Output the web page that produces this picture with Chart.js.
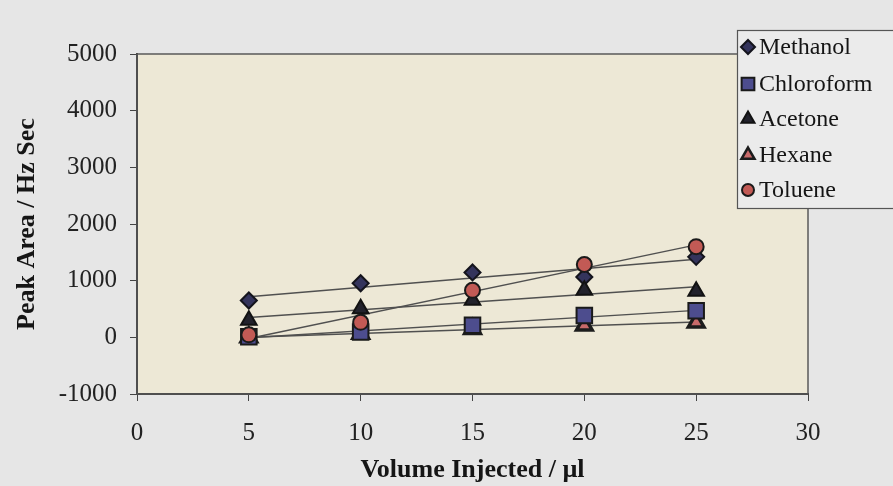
<!DOCTYPE html>
<html>
<head>
<meta charset="utf-8">
<script src="https://cdn.jsdelivr.net/npm/chart.js@4.4.1/dist/chart.umd.min.js"></script>
<style>
  html, body { margin: 0; padding: 0; background: #e6e6e6; }
  #wrap { width: 893px; height: 486px; }
</style>
</head>
<body>
<div id="wrap"><canvas id="peaks" width="893" height="486"></canvas></div>
<script>
// injected volumes (µl) and measured peak areas (Hz Sec)
const volumes = [5, 10, 15, 20, 25];
const methanol = [650, 955, 1145, 1065, 1420];
const chloroform = [10, 95, 212, 385, 470];
const acetone = [300, 505, 655, 830, 815];
const hexane = [0, 65, 145, 210, 262];
const toluene = [45, 265, 830, 1285, 1600];

const xTicks = [0, 5, 10, 15, 20, 25, 30];
const yTicks = [-1000, 0, 1000, 2000, 3000, 4000, 5000];

const serif = "'Liberation Serif', 'DejaVu Serif', serif";

const series = [
  { label: "Methanol", values: methanol, style: "rectRot", radius: 8, fill: "#34345c", edge: "#14141c", bw: 2, order: 5 },
  { label: "Chloroform", values: chloroform, style: "rect", radius: 11, fill: "#4d4d8e", edge: "#1a1a1a", bw: 2, order: 2 },
  { label: "Acetone", values: acetone, style: "triangle", radius: 9, fill: "#22222c", edge: "#121212", bw: 2, order: 3 },
  { label: "Hexane", values: hexane, style: "triangle", radius: 9, fill: "#c86a6a", edge: "#1c1c1c", bw: 3.5, order: 4 },
  { label: "Toluene", values: toluene, style: "circle", radius: 7.5, fill: "#c25a55", edge: "#1a1a1a", bw: 2, order: 1 },
];

// least squares line through each series, drawn between the first and last volume
const fitLine = (xs, ys) => {
  const n = xs.length;
  const mx = xs.reduce((a, b) => a + b, 0) / n;
  const my = ys.reduce((a, b) => a + b, 0) / n;
  let sxy = 0, sxx = 0;
  xs.forEach((x, i) => { sxy += (x - mx) * (ys[i] - my); sxx += (x - mx) * (x - mx); });
  const m = sxy / sxx;
  const x0 = xs[0], x1 = xs[n - 1];
  return [{ x: x0, y: my + m * (x0 - mx) }, { x: x1, y: my + m * (x1 - mx) }];
};

const datasets = [];
series.forEach(s => {
  datasets.push({
    type: "line",
    label: s.label + " trend",
    data: fitLine(volumes, s.values),
    borderColor: "#505050",
    borderWidth: 1.4,
    pointRadius: 0,
    fill: false,
    order: 10,
    isTrend: true,
  });
});
series.forEach(s => {
  datasets.push({
    type: "scatter",
    label: s.label,
    data: volumes.map((v, i) => ({ x: v, y: s.values[i] })),
    pointStyle: s.style,
    pointRadius: s.radius,
    backgroundColor: s.fill,
    borderColor: s.edge,
    borderWidth: s.bw,
    order: s.order,
  });
});

// beige plot area with a frame
const plotArea = {
  id: "plotArea",
  beforeDraw(chart) {
    const { ctx, chartArea: a } = chart;
    ctx.save();
    ctx.fillStyle = "#ede8d6";
    ctx.fillRect(a.left, a.top, a.right - a.left, a.bottom - a.top);
    ctx.restore();
  },
  afterDatasetsDraw(chart) {
    const { ctx, chartArea: a } = chart;
    ctx.save();
    ctx.strokeStyle = "#5a5a5a";
    ctx.lineWidth = 1.5;
    ctx.strokeRect(a.left, a.top, a.right - a.left, a.bottom - a.top);
    ctx.restore();
  },
};

// legend box in the top right corner
const boxLegend = {
  id: "boxLegend",
  afterDraw(chart) {
    const { ctx } = chart;
    const rows = [47, 84, 119, 155, 190];
    ctx.save();
    ctx.fillStyle = "#ebebeb";
    ctx.fillRect(737.5, 30.5, 160, 178);
    ctx.strokeStyle = "#555";
    ctx.lineWidth = 1.2;
    ctx.strokeRect(737.5, 30.5, 160, 178);
    ctx.font = "24px " + serif;
    ctx.textBaseline = "middle";
    chart.data.datasets.filter(d => !d.isTrend).forEach((d, i) => {
      ctx.fillStyle = d.backgroundColor;
      ctx.strokeStyle = d.borderColor;
      ctx.lineWidth = Math.min(d.borderWidth, 2.5);
      const r = { rect: 9, rectRot: 7, triangle: 7.5, circle: 6 }[d.pointStyle];
      Chart.helpers.drawPoint(ctx, {
        pointStyle: d.pointStyle,
        radius: r,
        borderWidth: ctx.lineWidth,
        rotation: 0,
      }, 748, rows[i]);
      ctx.fillStyle = "#151515";
      ctx.fillText(d.label, 759, rows[i] + 1);
    });
    ctx.restore();
  },
};

const plain = v => String(v);

new Chart(document.getElementById("peaks"), {
  data: { datasets },
  options: {
    responsive: false,
    animation: false,
    events: [],
    devicePixelRatio: 1,
    layout: { padding: { top: 54, right: 85, left: 0, bottom: 0 } },
    plugins: {
      legend: { display: false },
      tooltip: { enabled: false },
    },
    scales: {
      x: {
        type: "linear",
        min: 0,
        max: 30,
        afterBuildTicks: s => { s.ticks = xTicks.map(v => ({ value: v })); },
        afterFit: s => { s.height = 92; },
        grid: { drawOnChartArea: false, drawTicks: true, tickLength: 7, color: "#444" },
        border: { display: true, color: "#333", width: 2 },
        ticks: { color: "#222", padding: 17, callback: plain, font: { family: serif, size: 25 } },
        title: {
          display: true,
          text: "Volume Injected / µl",
          color: "#151515",
          padding: { top: 0, bottom: 0 },
          font: { family: serif, size: 26, weight: "bold" },
        },
      },
      y: {
        type: "linear",
        min: -1000,
        max: 5000,
        afterBuildTicks: s => { s.ticks = yTicks.map(v => ({ value: v })); },
        afterFit: s => { s.width = 137; },
        grid: { drawOnChartArea: false, drawTicks: true, tickLength: 7, color: "#444" },
        border: { display: true, color: "#333", width: 2 },
        ticks: { color: "#222", padding: 13, callback: plain, font: { family: serif, size: 25 } },
        title: {
          display: true,
          text: "Peak Area / Hz Sec",
          color: "#151515",
          padding: { top: 12, bottom: 0 },
          font: { family: serif, size: 26, weight: "bold" },
        },
      },
    },
  },
  plugins: [plotArea, boxLegend],
});
</script>
</body>
</html>
